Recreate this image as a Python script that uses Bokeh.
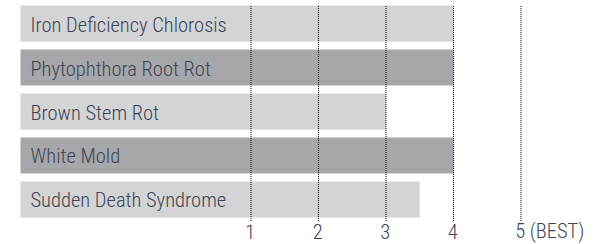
from bokeh.plotting import figure
from bokeh.models import Range1d, ColumnDataSource
from bokeh.core.properties import value
from bokeh.embed import file_html
from bokeh.resources import INLINE

diseases = ["Iron Deficiency Chlorosis", "Phytophthora Root Rot", "Brown Stem Rot",
            "White Mold", "Sudden Death Syndrome"]
scores = [4, 4, 3, 4, 3.5]
bar_colors = ["#d3d4d6", "#a6a7aa", "#d3d4d6", "#a6a7aa", "#d3d4d6"]
tick_values = [1, 2, 3, 4, 5]
tick_labels = ["1", "2", "3", "4", "5 (BEST)"]

FONT = "'Roboto Condensed Light', 'Roboto Condensed'"
TEXT_COLOR = "#404552"
BAR_BASE = -2.4148

p = figure(width=601, height=244, output_backend="svg", toolbar_location=None,
           x_range=Range1d(-2.7111, 6.1926), y_range=Range1d(5.023, -0.523),
           min_border=0)
p.axis.visible = False
p.grid.visible = False
p.outline_line_color = None
p.background_fill_color = "white"

idx = list(range(len(diseases)))
src = ColumnDataSource(dict(y=idx, right=scores, color=bar_colors, name=diseases,
                            base=[BAR_BASE] * len(idx)))
p.hbar(y="y", left="base", right="right", height=0.818, fill_color="color",
       line_color=None, source=src)
p.text(x="base", y="y", text="name", source=src, x_offset=10, y_offset=1,
       text_font=value(FONT), text_font_size="20.5px", text_color=TEXT_COLOR,
       text_baseline="alphabetic", text_align="left")

p.segment(x0=tick_values, x1=tick_values, y0=[-0.3977] * 5, y1=[4.4886] * 5,
          line_color="#000000", line_width=1, line_dash="1 1")

tsrc = ColumnDataSource(dict(x=tick_values, t=tick_labels, y=[4.5] * 5))
p.text(x="x", y="y", text="t", source=tsrc, x_offset=-5.8, y_offset=10,
       text_font=value(FONT), text_font_size="20.5px", text_color=TEXT_COLOR,
       text_baseline="alphabetic", text_align="left")

open("out.html", "w").write(file_html(p, INLINE))
